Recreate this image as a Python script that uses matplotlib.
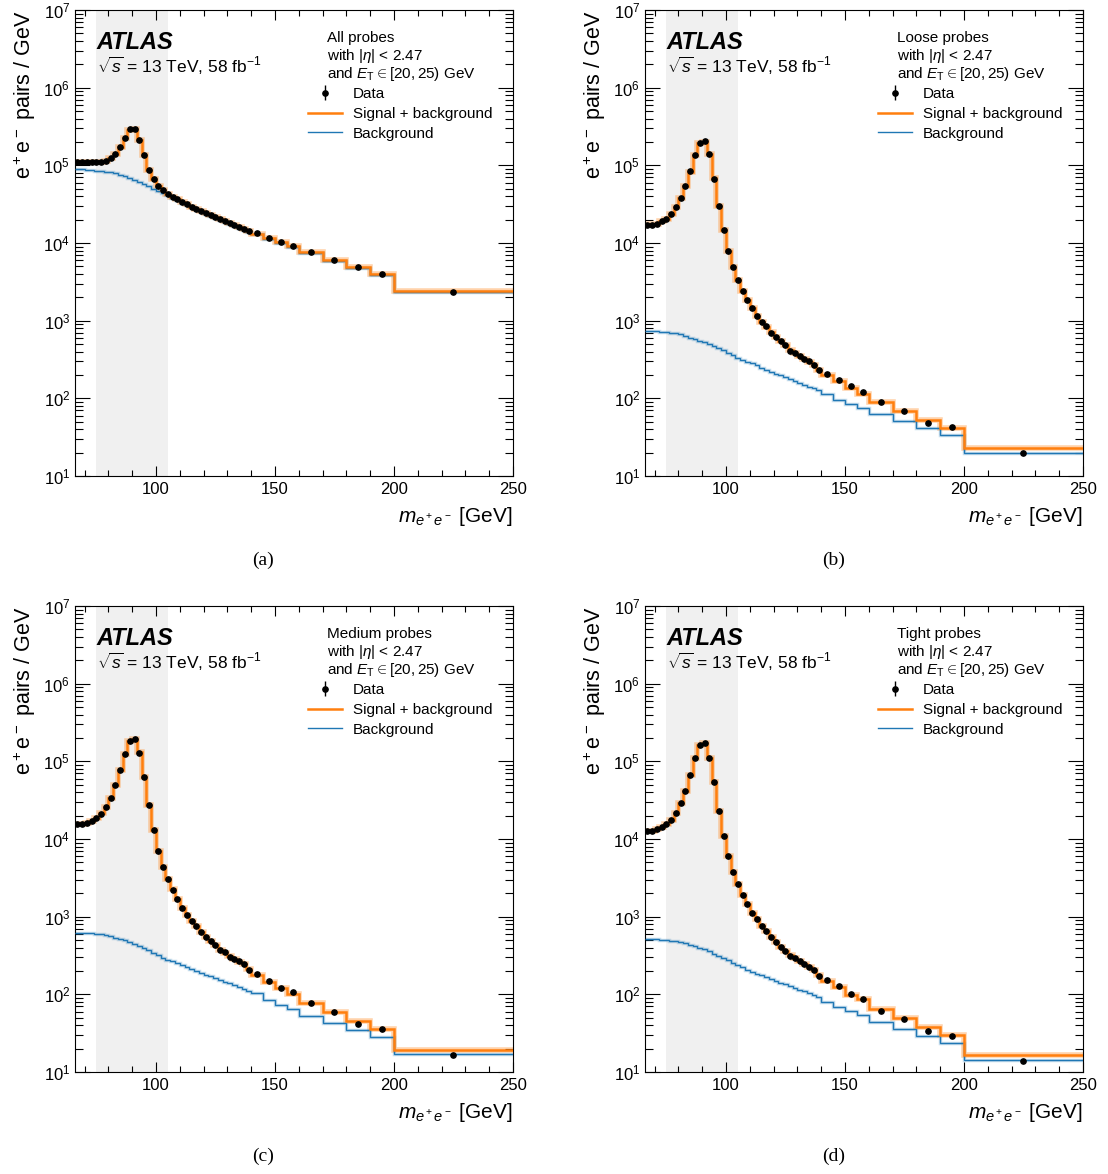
import numpy as np
import matplotlib
matplotlib.use("Agg")
import matplotlib.pyplot as plt
from matplotlib.ticker import LogLocator, MultipleLocator, NullFormatter

plt.rcParams['font.family'] = ['Liberation Sans', 'DejaVu Sans']
plt.rcParams['mathtext.fontset'] = 'custom'
plt.rcParams['mathtext.rm'] = 'Liberation Sans'
plt.rcParams['mathtext.it'] = 'Liberation Sans:italic'
plt.rcParams['mathtext.bf'] = 'Liberation Sans:bold'

# bin edges: 2 GeV up to 140, then 5, 10 and one wide bin
edges = list(range(66, 141, 2)) + [145, 150, 155, 160, 170, 180, 190, 200, 250]

titles = ["All probes", "Loose probes", "Medium probes", "Tight probes"]
captions = ["(a)", "(b)", "(c)", "(d)"]

### (a) all probes
data_a = [1.10e5, 1.10e5, 1.10e5, 1.10e5, 1.10e5, 1.11e5, 1.14e5, 1.23e5, 1.39e5, 1.71e5,
          2.23e5, 2.91e5, 2.91e5, 2.14e5, 1.35e5, 8.6e4, 6.6e4, 5.4e4, 4.77e4, 4.31e4,
          3.91e4, 3.65e4, 3.40e4, 3.15e4, 2.94e4, 2.77e4, 2.61e4, 2.45e4, 2.29e4, 2.16e4,
          2.04e4, 1.90e4, 1.80e4, 1.69e4, 1.59e4, 1.50e4, 1.42e4,
          1.33e4, 1.16e4, 1.03e4, 9.06e3, 7.59e3, 6.03e3, 4.91e3, 3.99e3, 2.36e3]
sb_a = [1.10e5, 1.10e5, 1.10e5, 1.10e5, 1.10e5, 1.11e5, 1.14e5, 1.23e5, 1.40e5, 1.71e5,
        2.23e5, 2.88e5, 2.90e5, 2.14e5, 1.35e5, 8.6e4, 6.6e4, 5.4e4, 4.75e4, 4.3e4,
        3.92e4, 3.64e4, 3.39e4, 3.15e4, 2.95e4, 2.77e4, 2.6e4, 2.45e4, 2.3e4, 2.16e4,
        2.03e4, 1.91e4, 1.8e4, 1.69e4, 1.59e4, 1.5e4, 1.42e4,
        1.32e4, 1.16e4, 1.04e4, 9.1e3, 7.6e3, 6.0e3, 4.9e3, 4.0e3, 2.4e3]
bkg_a = [8.9e4, 8.85e4, 8.75e4, 8.65e4, 8.55e4, 8.45e4, 8.3e4, 8.15e4, 7.9e4, 7.6e4,
         7.3e4, 6.95e4, 6.55e4, 6.15e4, 5.75e4, 5.4e4, 5.0e4, 4.7e4, 4.4e4, 4.1e4,
         3.8e4, 3.55e4, 3.3e4, 3.07e4, 2.87e4, 2.7e4, 2.55e4, 2.39e4, 2.24e4, 2.11e4,
         1.99e4, 1.86e4, 1.76e4, 1.65e4, 1.56e4, 1.47e4, 1.39e4,
         1.30e4, 1.13e4, 1.0e4, 8.85e3, 7.4e3, 5.9e3, 4.8e3, 3.9e3, 2.33e3]

### (b) loose probes
data_b = [1.72e4, 1.72e4, 1.77e4, 1.90e4, 2.05e4, 2.34e4, 2.88e4, 3.80e4, 5.42e4, 8.37e4,
          1.36e5, 1.94e5, 2.04e5, 1.39e5, 6.73e4, 2.96e4, 1.46e4, 7.81e3, 4.91e3, 3.31e3,
          2.43e3, 1.83e3, 1.44e3, 1.16e3, 970, 845, 693, 622, 542, 481,
          411, 387, 347, 321, 305, 271, 229,
          208, 171, 143, 121, 90.6, 69.3, 47.7, 42.4, 19.8]
sb_b = [1.78e4, 1.75e4, 1.78e4, 1.9e4, 2.06e4, 2.35e4, 2.88e4, 3.8e4, 5.4e4, 8.3e4,
        1.35e5, 1.93e5, 2.02e5, 1.39e5, 6.8e4, 2.98e4, 1.46e4, 7.8e3, 4.9e3, 3.3e3,
        2.44e3, 1.84e3, 1.45e3, 1.16e3, 965, 830, 705, 620, 545, 480,
        420, 383, 348, 320, 296, 268, 232,
        198, 166, 137, 115, 90, 69, 52, 41.5, 22.8]
bkg_b = [736, 733, 728, 722, 714, 702, 688, 668, 640, 606,
         580, 552, 525, 497, 468, 440, 414, 387, 360, 335,
         316, 298, 281, 265, 249, 235, 221, 208, 197, 186,
         175, 166, 158, 149, 141, 134, 127,
         113, 96, 84, 76, 63.5, 50.6, 41.9, 33.8, 20]

### (c) medium probes
data_c = [1.55e4, 1.55e4, 1.61e4, 1.72e4, 1.85e4, 2.12e4, 2.58e4, 3.40e4, 4.91e4, 7.73e4,
          1.26e5, 1.85e5, 1.94e5, 1.29e5, 6.23e4, 2.71e4, 1.32e4, 7.08e3, 4.41e3, 3.03e3,
          2.23e3, 1.67e3, 1.31e3, 1.05e3, 879, 766, 635, 552, 486, 428,
          369, 348, 305, 285, 269, 248, 206,
          183, 149, 122, 106, 76.7, 59.3, 41.1, 35.5, 16.7]
sb_c = [1.58e4, 1.57e4, 1.62e4, 1.72e4, 1.86e4, 2.13e4, 2.6e4, 3.4e4, 4.9e4, 7.7e4,
        1.26e5, 1.84e5, 1.93e5, 1.3e5, 6.3e4, 2.72e4, 1.32e4, 7.1e3, 4.4e3, 3.03e3,
        2.24e3, 1.68e3, 1.31e3, 1.05e3, 875, 760, 640, 552, 485, 426,
        375, 345, 308, 283, 264, 244, 210,
        176, 146, 120, 101, 77.4, 59.3, 45, 35.5, 19.4]
bkg_c = [622, 619, 614, 609, 603, 592, 578, 560, 538, 515,
         494, 470, 447, 421, 394, 367, 345, 321, 298, 280,
         266, 251, 238, 226, 213, 201, 189, 179, 170, 161,
         152, 145, 138, 131, 124, 118, 112,
         103, 84, 72, 64, 52.6, 42.4, 34.8, 28.3, 16.9]

### (d) tight probes
data_d = [1.28e4, 1.27e4, 1.33e4, 1.41e4, 1.55e4, 1.76e4, 2.14e4, 2.88e4, 4.15e4, 6.61e4,
          1.09e5, 1.62e5, 1.71e5, 1.11e5, 5.37e4, 2.30e4, 1.10e4, 6.04e3, 3.72e3, 2.61e3,
          1.92e3, 1.46e3, 1.11e3, 924, 766, 653, 542, 468, 411, 365,
          312, 294, 266, 243, 227, 206, 174,
          153, 127, 100, 88, 61.7, 48.7, 33.4, 28.8, 13.7]
sb_d = [1.28e4, 1.27e4, 1.33e4, 1.41e4, 1.55e4, 1.76e4, 2.15e4, 2.88e4, 4.15e4, 6.6e4,
        1.09e5, 1.61e5, 1.70e5, 1.12e5, 5.4e4, 2.3e4, 1.1e4, 6.05e3, 3.72e3, 2.6e3,
        1.92e3, 1.46e3, 1.12e3, 920, 765, 650, 545, 468, 410, 362,
        318, 291, 265, 243, 225, 204, 178,
        149, 126, 98, 86, 65.3, 50, 38, 30, 16.4]
bkg_d = [515, 513, 510, 506, 501, 492, 481, 467, 453, 438,
         419, 399, 380, 358, 335, 314, 297, 275, 256, 238,
         223, 208, 195, 185, 175, 165, 156, 148, 141, 134,
         127, 121, 115, 109, 104, 98, 93,
         80.5, 69.4, 61, 54, 44.5, 35.5, 29.1, 23.9, 14.3]

panels = [(data_a, sb_a, bkg_a), (data_b, sb_b, bkg_b),
          (data_c, sb_c, bkg_c), (data_d, sb_d, bkg_d)]

edges = np.array(edges, dtype=float)
centers = 0.5 * (edges[1:] + edges[:-1])

fig = plt.figure(figsize=(11.08, 11.74), dpi=100)
W, H = 1108.0, 1174.0
# axes boxes in pixels: left, top
boxes = [(75, 10), (645, 10), (75, 606), (645, 606)]
aw, ah = 438, 466

orange = '#ff7f0e'
blue = '#1f77b4'

for i, (data, sb, bkg) in enumerate(panels):
    l, t = boxes[i]
    ax = fig.add_axes([l / W, 1 - (t + ah) / H, aw / W, ah / H])

    ax.axvspan(75, 105, color='#f0f0f0', lw=0, zorder=0)

    # light band under the lines
    ax.stairs(sb, edges, baseline=None, color=orange, lw=4, alpha=0.35, zorder=2)
    ax.stairs(bkg, edges, baseline=None, color=blue, lw=2.5, alpha=0.25, zorder=2)
    ax.stairs(bkg, edges, baseline=None, color=blue, lw=1.0, zorder=3, label='Background')
    ax.stairs(sb, edges, baseline=None, color=orange, lw=1.8, zorder=4,
              label='Signal + background')
    ax.errorbar(centers, data, yerr=np.zeros(len(data)), fmt='o', color='black',
                ms=3.8, elinewidth=1, capsize=0, zorder=5, label='Data')

    ax.set_yscale('log')
    ax.set_xlim(66, 250)
    ax.set_ylim(10, 1e7)
    ax.xaxis.set_major_locator(MultipleLocator(50))
    ax.xaxis.set_minor_locator(MultipleLocator(10))
    ax.yaxis.set_major_locator(LogLocator(base=10, numticks=10))
    ax.yaxis.set_minor_locator(LogLocator(base=10, subs=np.arange(2, 10), numticks=20))
    ax.yaxis.set_minor_formatter(NullFormatter())
    ax.tick_params(which='both', direction='in', top=True, right=True, labelsize=12)
    ax.tick_params(axis='y', which='major', length=11, width=0.8)
    ax.tick_params(axis='y', which='minor', length=6, width=0.8)
    ax.tick_params(axis='x', which='major', length=7, width=0.8)
    ax.tick_params(axis='x', which='minor', length=4, width=0.8)
    ax.tick_params(axis='x', pad=4)

    ax.set_xlabel(r'$m_{e^+e^-}$ [GeV]', fontsize=15, loc='right', labelpad=6)
    ax.set_ylabel(r'e$^+$e$^-$ pairs / GeV', fontsize=15.5, loc='top', labelpad=4)

    ax.text(0.05, 0.931, 'ATLAS', transform=ax.transAxes, fontsize=17,
            fontweight='bold', fontstyle='italic', va='center')
    ax.text(0.05, 0.880, r'$\sqrt{s}$ = 13 TeV, 58 fb$^{-1}$', transform=ax.transAxes,
            fontsize=12.5, va='center')

    ax.text(0.575, 0.940, titles[i], transform=ax.transAxes, fontsize=11, va='center')
    ax.text(0.575, 0.902, r'with $|\eta|$ < 2.47', transform=ax.transAxes, fontsize=11, va='center')
    ax.text(0.575, 0.863, r'and $E_{\mathrm{T}} \in [20, 25)$ GeV', transform=ax.transAxes,
            fontsize=11, va='center')

    h, lab = ax.get_legend_handles_labels()
    order = [lab.index('Data'), lab.index('Signal + background'), lab.index('Background')]
    ax.legend([h[k] for k in order], [lab[k] for k in order], loc='upper left',
              bbox_to_anchor=(0.515, 0.851), frameon=False, fontsize=11,
              handlelength=2.2, handletextpad=0.7, labelspacing=0.38, borderpad=0)

    fig.text((l + aw * 0.43) / W, 1 - (t + 550) / H, captions[i], fontsize=14,
             family='Liberation Serif', ha='center', va='center')

fig.savefig('out.png', dpi=100)
